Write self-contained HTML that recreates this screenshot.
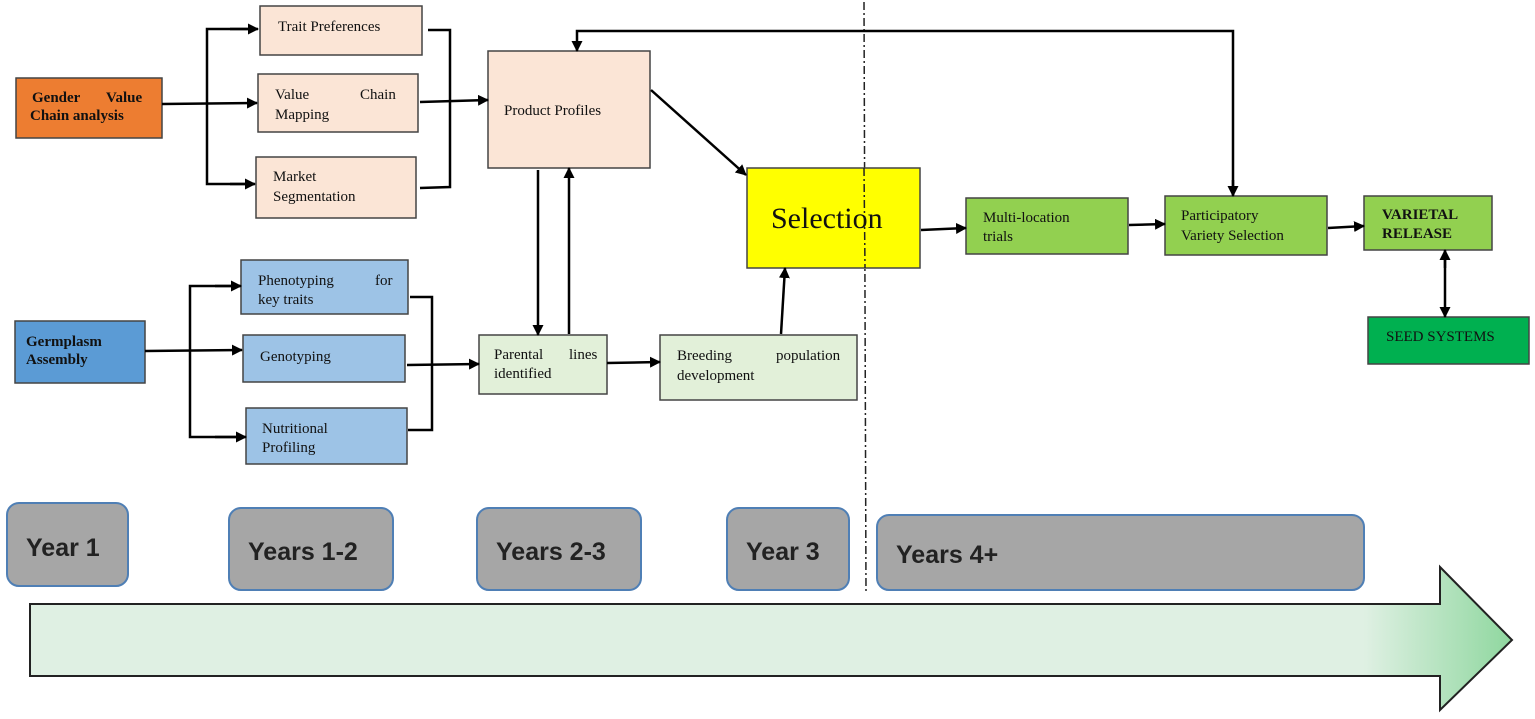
<!DOCTYPE html>
<html><head><meta charset="utf-8"><style>
html,body{margin:0;padding:0;background:#fff;}
svg{display:block;}
text{font-family:"Liberation Serif",serif;font-size:15px;fill:#111;}
.y{font-family:"Liberation Sans",sans-serif;font-size:25px;font-weight:bold;fill:#222;}
</style></head><body>
<svg width="1535" height="719" viewBox="0 0 1535 719">
<defs>
<marker id="a" markerWidth="11" markerHeight="11" refX="10" refY="5.5" orient="auto" markerUnits="userSpaceOnUse"><path d="M0,0L11,5.5L0,11z" fill="#000"/></marker>
<linearGradient id="g" x1="0" x2="1"><stop offset="0" stop-color="#dff0e3"/><stop offset="0.9" stop-color="#dff0e3"/><stop offset="1" stop-color="#8fd79f"/></linearGradient>
</defs>
<path d="M30,604H1440V567L1512,640L1440,710V676H30Z" fill="url(#g)" stroke="#222" stroke-width="2"/>
<g fill="#a6a6a6" stroke="#4f7fb5" stroke-width="2">
<rect x="7" y="503" width="121" height="83" rx="12"/>
<rect x="229" y="508" width="164" height="82" rx="12"/>
<rect x="477" y="508" width="164" height="82" rx="12"/>
<rect x="727" y="508" width="122" height="82" rx="12"/>
<rect x="877" y="515" width="487" height="75" rx="12"/>
</g>
<text class="y" x="26" y="556">Year 1</text>
<text class="y" x="248" y="560">Years 1-2</text>
<text class="y" x="496" y="560">Years 2-3</text>
<text class="y" x="746" y="560">Year 3</text>
<text class="y" x="896" y="563">Years 4+</text>
<line x1="864" y1="2" x2="866" y2="592" stroke="#222" stroke-width="1.5" stroke-dasharray="8,3,2,3"/>
<g stroke="#444" stroke-width="1.5">
<rect x="16" y="78" width="146" height="60" fill="#ed7d31"/>
<rect x="260" y="6" width="162" height="49" fill="#fbe5d6"/>
<rect x="258" y="74" width="160" height="58" fill="#fbe5d6"/>
<rect x="256" y="157" width="160" height="61" fill="#fbe5d6"/>
<rect x="488" y="51" width="162" height="117" fill="#fbe5d6"/>
<rect x="15" y="321" width="130" height="62" fill="#5b9bd5"/>
<rect x="241" y="260" width="167" height="54" fill="#9dc3e6"/>
<rect x="243" y="335" width="162" height="47" fill="#9dc3e6"/>
<rect x="246" y="408" width="161" height="56" fill="#9dc3e6"/>
<rect x="479" y="335" width="128" height="59" fill="#e2f0d9"/>
<rect x="660" y="335" width="197" height="65" fill="#e2f0d9"/>
<rect x="747" y="168" width="173" height="100" fill="#ffff00"/>
<rect x="966" y="198" width="162" height="56" fill="#92d050"/>
<rect x="1165" y="196" width="162" height="59" fill="#92d050"/>
<rect x="1364" y="196" width="128" height="54" fill="#92d050"/>
<rect x="1368" y="317" width="161" height="47" fill="#00b050"/>
</g>
<line x1="864" y1="168" x2="865" y2="268" stroke="#222" stroke-width="1.5" stroke-dasharray="8,3,2,3"/>
<g font-weight="bold"><text x="32" y="102" font-weight="bold">Gender</text><text x="106" y="102" font-weight="bold">Value</text><text x="30" y="120" font-weight="bold">Chain analysis</text>
<text x="26" y="346" font-weight="bold">Germplasm</text><text x="26" y="364" font-weight="bold">Assembly</text>
<text x="1382" y="219" font-weight="bold">VARIETAL</text><text x="1382" y="238" font-weight="bold">RELEASE</text></g>
<text x="278" y="31">Trait Preferences</text>
<text x="275" y="99">Value</text><text x="360" y="99">Chain</text><text x="275" y="119">Mapping</text>
<text x="273" y="181">Market</text><text x="273" y="201">Segmentation</text>
<text x="504" y="115">Product Profiles</text>
<text x="258" y="285">Phenotyping</text><text x="375" y="285">for</text><text x="258" y="304">key traits</text>
<text x="260" y="361">Genotyping</text>
<text x="262" y="433">Nutritional</text><text x="262" y="452">Profiling</text>
<text x="494" y="359">Parental</text><text x="569" y="359">lines</text><text x="494" y="378">identified</text>
<text x="677" y="360">Breeding</text><text x="776" y="360">population</text><text x="677" y="380">development</text>
<text x="771" y="228" style="font-size:30px">Selection</text>
<text x="983" y="222">Multi-location</text><text x="983" y="241">trials</text>
<text x="1181" y="220">Participatory</text><text x="1181" y="240">Variety Selection</text>
<text x="1386" y="341">SEED SYSTEMS</text>
<g stroke="#000" stroke-width="2.5" fill="none">
<line x1="162" y1="104" x2="257" y2="103" marker-end="url(#a)"/>
<polyline points="256,29 207,29 207,184 254,184" />
<line x1="230" y1="29" x2="258" y2="29" marker-end="url(#a)"/>
<line x1="230" y1="184" x2="255" y2="184" marker-end="url(#a)"/>
<polyline points="428,30 450,30 450,187 420,188"/>
<line x1="420" y1="102" x2="488" y2="100" marker-end="url(#a)"/>
<line x1="145" y1="351" x2="242" y2="350" marker-end="url(#a)"/>
<polyline points="240,286 190,286 190,437 244,437"/>
<line x1="215" y1="286" x2="241" y2="286" marker-end="url(#a)"/>
<line x1="215" y1="437" x2="246" y2="437" marker-end="url(#a)"/>
<polyline points="410,297 432,297 432,430 408,430"/>
<line x1="407" y1="365" x2="479" y2="364" marker-end="url(#a)"/>
<line x1="538" y1="170" x2="538" y2="335" marker-end="url(#a)"/>
<line x1="569" y1="334" x2="569" y2="168" marker-end="url(#a)"/>
<line x1="607" y1="363" x2="660" y2="362" marker-end="url(#a)"/>
<line x1="781" y1="334" x2="785" y2="268" marker-end="url(#a)"/>
<line x1="651" y1="90" x2="746" y2="175" marker-end="url(#a)"/>
<polyline points="1233,195 1233,31 577,31 577,51" marker-end="url(#a)"/>
<line x1="1233" y1="180" x2="1233" y2="196" marker-end="url(#a)"/>
<line x1="921" y1="230" x2="966" y2="228" marker-end="url(#a)"/>
<line x1="1129" y1="225" x2="1165" y2="224" marker-end="url(#a)"/>
<line x1="1328" y1="228" x2="1364" y2="226" marker-end="url(#a)"/>
<line x1="1445" y1="268" x2="1445" y2="250" marker-end="url(#a)"/>
<line x1="1445" y1="260" x2="1445" y2="317" marker-end="url(#a)"/>
</g>
</svg>
</body></html>
